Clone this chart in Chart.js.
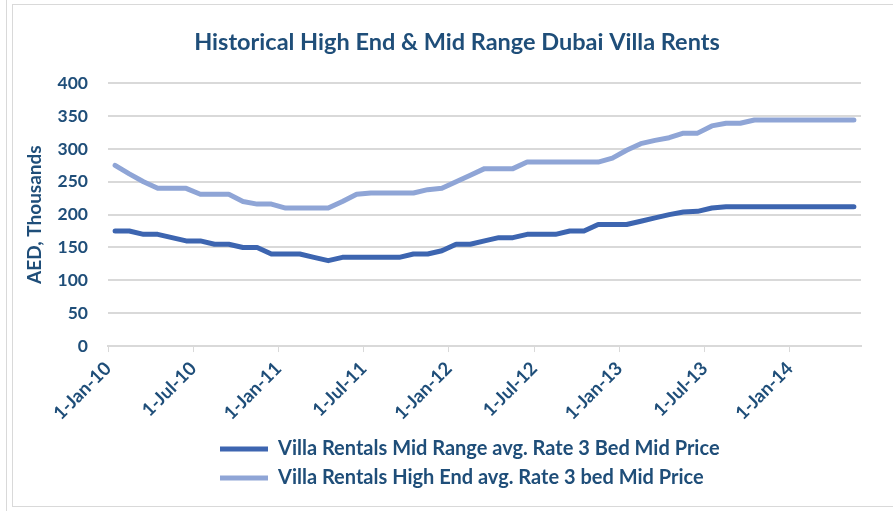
<!DOCTYPE html>
<html>
<head>
<meta charset="utf-8">
<script src="https://cdn.jsdelivr.net/npm/chart.js@4"></script>
<style>
  html, body { margin: 0; padding: 0; background: #fff; }
  #wrap { position: relative; width: 893px; height: 511px; overflow: hidden; }
  #frame { position: absolute; left: 12px; top: 4px; width: 900px; height: 503px; border: 1px solid #d9d9d9; box-sizing: border-box; }
  #edge { position: absolute; left: 6px; top: 0; width: 1px; height: 511px; background: #d9d9d9; }
  canvas { position: absolute; left: 0; top: 0; }
</style>
</head>
<body>
<div id="wrap">
  <div id="edge"></div>
  <div id="frame"></div>
  <canvas id="c" width="893" height="511"></canvas>
</div>
<script>
// monthly values, Jan 2010 .. May 2014 (AED thousands)
const midRange = [175, 175, 170, 170, 165, 160, 160, 155, 155, 150, 150, 140,
    140, 140, 135, 130, 135, 135, 135, 135, 135, 140, 140, 145,
    155, 155, 160, 165, 165, 170, 170, 170, 175, 175, 185, 185,
    185, 190, 195, 200, 204, 205, 210, 212, 212, 212, 212, 212,
    212, 212, 212, 212, 212]
const highEnd = [275, 262, 250, 240, 240, 240, 231, 231, 231, 220, 216, 216,
    210, 210, 210, 210, 220, 231, 233, 233, 233, 233, 238, 240,
    250, 260, 270, 270, 270, 280, 280, 280, 280, 280, 280, 286,
    298, 308, 313, 317, 324, 324, 335, 339, 339, 344, 344, 344,
    344, 344, 344, 344, 344]
// one label every 6 months
const tickLabels = ['1-Jan-10', '1-Jul-10', '1-Jan-11', '1-Jul-11', '1-Jan-12',
    '1-Jul-12', '1-Jan-13', '1-Jul-13', '1-Jan-14']
const seriesNames = ['Villa Rentals Mid Range avg. Rate 3 Bed Mid Price',
    'Villa Rentals High End avg. Rate 3 bed Mid Price']

const TEXT = '#1f4e79'
const GRID = '#d9d9d9'

Chart.defaults.font.family = 'Lato, "Open Sans", sans-serif'
Chart.defaults.font.weight = 'bold'
Chart.defaults.color = TEXT

// points sit in the middle of their month
function toPoints(arr) {
    return arr.map((v, i) => ({ x: i + 0.5, y: v }))
}

// excel puts the title a bit right of centre and the legend rows left aligned
const nudge = {
    id: 'nudge',
    afterLayout(chart) {
        chart.titleBlock.left += 41
        chart.legend.left = chart.chartArea.left + 103
    }
}

new Chart(document.getElementById('c'), {
    type: 'line',
    data: {
        datasets: [{
            label: seriesNames[0],
            data: toPoints(midRange),
            borderColor: '#3d65b0',
            backgroundColor: '#3d65b0',
            borderWidth: 5,
            borderCapStyle: 'round',
            borderJoinStyle: 'round',
            pointRadius: 0,
            tension: 0
        }, {
            label: seriesNames[1],
            data: toPoints(highEnd),
            borderColor: '#8fa5d6',
            backgroundColor: '#8fa5d6',
            borderWidth: 5,
            borderCapStyle: 'round',
            borderJoinStyle: 'round',
            pointRadius: 0,
            tension: 0
        }]
    },
    options: {
        responsive: false,
        animation: false,
        layout: { padding: { left: 12, right: 32, top: 10, bottom: 13 } },
        plugins: {
            title: {
                display: true,
                text: 'Historical High End & Mid Range Dubai Villa Rents',
                font: { size: 23.5, weight: 'bold' },
                color: TEXT,
                padding: { top: 18, bottom: 27 }
            },
            legend: {
                position: 'bottom',
                align: 'start',
                labels: {
                    usePointStyle: true,
                    pointStyle: 'line',
                    pointStyleWidth: 48,
                    font: { size: 20, weight: 'bold' },
                    color: TEXT,
                    padding: 9
                }
            },
            tooltip: { enabled: false }
        },
        scales: {
            x: {
                type: 'linear',
                min: 0,
                max: midRange.length,
                grid: { drawOnChartArea: false, color: GRID, tickLength: 6 },
                border: { color: GRID, width: 2 },
                ticks: {
                    stepSize: 6,
                    maxRotation: 45,
                    minRotation: 45,
                    font: { size: 18.5, weight: 'bold' },
                    padding: 5.5,
                    callback: (v) => tickLabels[v / 6]
                }
            },
            y: {
                min: 0,
                max: 400,
                afterFit: (scale) => { scale.width = 96 },
                grid: { color: GRID, lineWidth: 2, drawTicks: false },
                border: { display: false },
                ticks: {
                    stepSize: 50,
                    padding: 20,
                    font: { size: 17.5, weight: 'bold' }
                },
                title: {
                    display: true,
                    text: 'AED, Thousands',
                    font: { size: 19, weight: 'bold' },
                    color: TEXT,
                    padding: { top: 11, bottom: 0 }
                }
            }
        }
    },
    plugins: [nudge]
});
</script>
</body>
</html>
